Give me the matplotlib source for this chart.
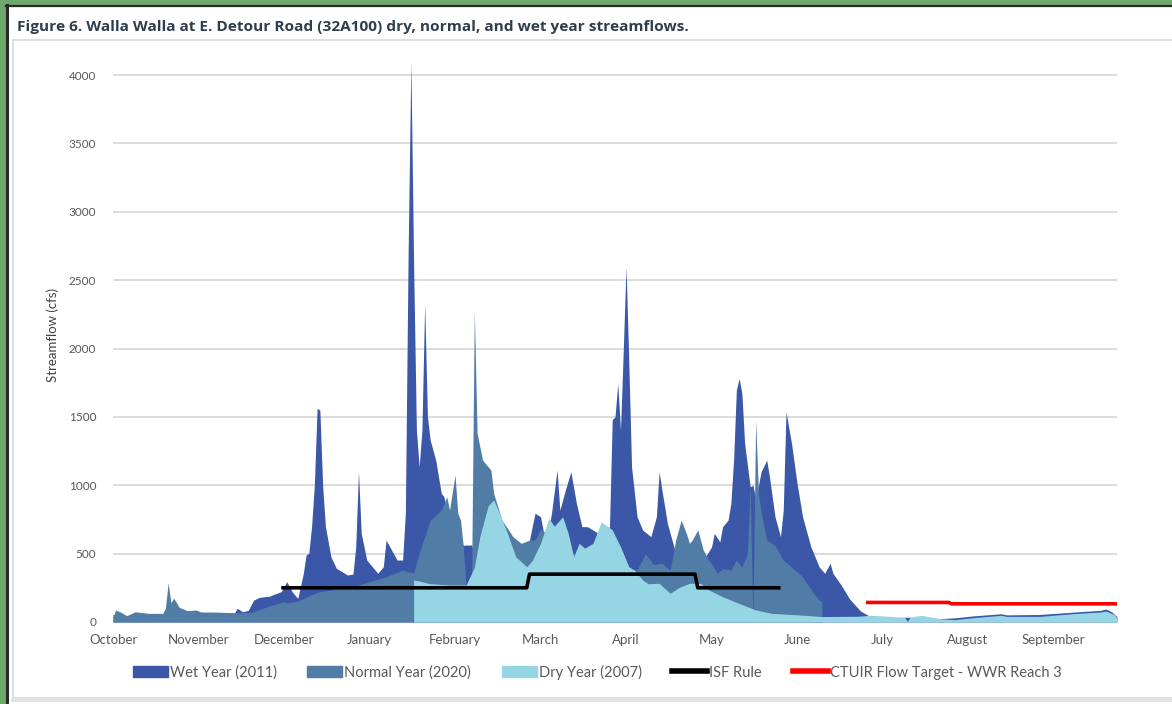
import matplotlib
matplotlib.use("Agg")
import matplotlib.pyplot as plt
from matplotlib.patches import Rectangle, Patch
from matplotlib.lines import Line2D

plt.rcParams['font.family'] = ['Lato', 'DejaVu Sans']

# ---------------- data (day index from Oct 1, cfs) ----------------
months = ["October", "November", "December", "January", "February", "March",
          "April", "May", "June", "July", "August", "September"]
month_tick_days = [0, 31, 62, 93, 124, 155, 186, 217, 248, 279, 310, 341]

wet_days = [0, 2, 5, 9, 14, 20, 27, 36, 44, 45, 47, 49, 51, 53, 57, 58, 61, 63, 65, 67,
            69, 70, 71, 72, 73, 74, 75, 76, 77, 79, 81, 85, 87, 88, 89, 90, 92, 96, 98, 99,
            101, 103, 105, 106, 107, 108, 109, 110, 111, 112, 113, 114, 115, 117, 119, 120,
            121, 123, 125, 127, 128, 130, 131, 135, 140, 145, 150, 152, 153, 155, 157, 159,
            161, 162, 164, 166, 168, 170, 172, 174, 175, 177, 180, 181, 182, 183, 184, 185,
            186, 187, 188, 190, 192, 195, 197, 198, 199, 201, 203, 204, 207, 210, 214, 217,
            218, 220, 221, 223, 224, 225, 226, 227, 228, 229, 231, 232, 233, 234, 235, 237,
            238, 240, 242, 243, 244, 246, 248, 250, 253, 256, 258, 260, 261, 264, 267, 271,
            275, 280, 288, 295, 300, 305, 312, 322, 324, 336, 348, 358, 360, 362, 364]
wet_cfs = [55, 50, 40, 55, 50, 60, 55, 60, 65, 100, 75, 85, 160, 180, 190, 200, 222, 295, 220, 173,
           356, 490, 502, 700, 1000, 1562, 1550, 1000, 700, 477, 392, 344, 350, 550, 1099, 648, 453, 356, 404, 599,
           526, 453, 453, 800, 2700, 4100, 2600, 1400, 1135, 1400, 2330, 1500, 1330, 1184, 941, 916,
           800, 700, 650, 560, 563, 563, 500, 450, 450, 450, 500, 700, 795, 770, 560, 800,
           1111, 818, 965, 1099, 868, 697, 697, 673, 660, 640, 697, 1480, 1500, 1745, 1404, 1988,
           2597, 1900, 1135, 770, 673, 624, 770, 1099, 965, 721, 575, 502, 450, 450, 450, 550,
           648, 587, 697, 745, 868, 1184, 1696, 1781, 1672, 1306, 989, 1000, 900, 1000, 1100, 1184,
           1062, 770, 624, 818, 1537, 1306, 1014, 770, 550, 404, 356, 429, 356, 270, 170, 80,
           35, 30, 35, 30, 25, 30, 45, 60, 52, 55, 72, 85, 95, 75, 40]

normal_days = [0, 1, 3, 5, 8, 13, 18, 19, 20, 21, 22, 24, 27, 30, 32, 36, 44, 50, 53, 57,
               62, 63, 66, 68, 72, 75, 79, 81, 87, 93, 99, 105, 109, 111, 115, 119, 121, 122, 124, 125,
               126, 127, 128, 130, 131, 132, 134, 137, 138, 141, 145, 148, 151, 153, 155, 157, 160, 165, 170, 175,
               180, 185, 190, 193, 196, 199, 202, 204, 206, 208, 209, 210, 212, 213, 214, 216, 217, 219, 221, 224,
               226, 228, 230, 231, 232, 233, 234, 235, 237, 240, 243, 245, 250, 254, 256, 257]
normal_cfs = [40, 88, 70, 46, 75, 63, 63, 100, 287, 140, 175, 107, 83, 88, 73, 73, 68, 70, 90, 120,
              148, 140, 148, 161, 200, 222, 234, 246, 258, 295, 331, 380, 356, 504, 745, 818, 916, 818, 1075, 795,
              745, 550, 260, 300, 2280, 1379, 1184, 1111, 941, 745, 624, 575, 599, 600, 680, 650, 550, 500, 500, 450,
              450, 400, 380, 500, 420, 430, 380, 600, 745, 640, 575, 600, 673, 600, 526, 450, 429, 356, 390, 380,
              453, 400, 500, 1000, 0, 1477, 941, 800, 599, 560, 453, 420, 331, 210, 161, 150]

dry_days = [109, 111, 115, 122, 128, 131, 133, 136, 138, 140, 143, 146, 150, 152, 155, 158, 160, 163, 165, 167,
            169, 171, 174, 177, 180, 181, 184, 187, 189, 192, 194, 198, 202, 205, 209, 213, 216, 221, 227, 233,
            239, 250, 257, 270, 275, 282, 287, 288, 289, 293, 300, 305, 312, 322, 324, 336, 348, 358, 360, 363, 364]
dry_cfs = [307, 300, 280, 270, 270, 400, 624, 850, 892, 800, 648, 477, 404, 450, 575, 758, 700, 770, 650, 477,
           575, 540, 575, 733, 690, 673, 550, 404, 380, 307, 280, 283, 210, 250, 283, 283, 234, 185, 136, 88,
           63, 50, 40, 42, 49, 41, 35, 5, 35, 49, 24, 17, 32, 49, 41, 41, 61, 73, 80, 55, 30]

isf_days = [61, 150, 151, 211, 212, 242]
isf_cfs = [250, 250, 350, 350, 250, 250]

ctuir_days = [273, 303, 304, 364]
ctuir_cfs = [143, 143, 133, 133]

y_ticks = [0, 500, 1000, 1500, 2000, 2500, 3000, 3500, 4000]

# ---------------- style ----------------
c_wet = "#3A57A8"
c_norm = "#507CA6"
c_dry = "#96D6E4"
txt_gray = "#595959"

W, H = 1172, 704
fig = plt.figure(figsize=(W / 100, H / 100), dpi=100)


def fx(px):
    return px / W


def fy(py):
    return 1 - py / H


# frame decorations
fig.patches.append(Rectangle((0, 0), fx(5), 1, transform=fig.transFigure, color="#6DA86D", zorder=0))
fig.patches.append(Rectangle((0, fy(4)), 1, 4 / H, transform=fig.transFigure, color="#6DA86D", zorder=0))
fig.add_artist(Line2D([fx(7), fx(7)], [0, fy(5)], transform=fig.transFigure, color="#2b2b2b", lw=2.2))
fig.add_artist(Line2D([fx(6), 1], [fy(5.5), fy(5.5)], transform=fig.transFigure, color="#2b2b2b", lw=1.6))
fig.patches.append(Rectangle((fx(13), fy(698)), fx(1172 - 13) + 0.01, (698 - 40) / H,
                             transform=fig.transFigure, fill=False, ec="#D9D9D9", lw=1.2, zorder=1))
fig.add_artist(Line2D([fx(13), 1], [fy(700), fy(700)], transform=fig.transFigure, color="#E3E3E3", lw=3))

fig.text(fx(17), fy(27), "Figure 6. Walla Walla at E. Detour Road (32A100) dry, normal, and wet year streamflows.",
         fontsize=11.1, fontweight="bold", color="#2F3D4C", va="center", ha="left",
         family=["Open Sans", "DejaVu Sans"])

ymax = 4200
left, right = 113, 1117
bottom_px, top_px = 622, 622 - 0.13675 * ymax
ax = fig.add_axes([fx(left), fy(bottom_px), fx(right - left), (bottom_px - top_px) / H])
ax.set_xlim(0, 364)
ax.set_ylim(0, ymax)

ax.fill_between(wet_days, 0, wet_cfs, color=c_wet, lw=0, zorder=2)
ax.fill_between(normal_days, 0, normal_cfs, color=c_norm, lw=0, zorder=3)
ax.fill_between(dry_days, 0, dry_cfs, color=c_dry, lw=0, zorder=4)
ax.plot(isf_days, isf_cfs, color="black", lw=2.6, zorder=5, solid_capstyle="butt")
ax.plot(ctuir_days, ctuir_cfs, color="#FF0000", lw=2.6, zorder=5, solid_capstyle="butt")

ax.set_yticks(y_ticks)
ax.set_yticklabels([str(v) for v in y_ticks], fontsize=8.5, color=txt_gray)
ax.set_xticks(month_tick_days)
ax.set_xticklabels(months, fontsize=9.5, color=txt_gray)
ax.tick_params(axis="both", length=0)
ax.tick_params(axis="y", pad=12)
ax.tick_params(axis="x", pad=9)
ax.grid(axis="y", color="#D9D9D9", lw=1.3, zorder=0)
ax.set_axisbelow(True)
for s in ax.spines.values():
    s.set_visible(False)
ax.set_ylabel("Streamflow (cfs)", fontsize=9.5, color="#404040", labelpad=7)

handles = [Patch(color=c_wet), Patch(color=c_norm), Patch(color=c_dry),
           Line2D([], [], color="black", lw=4), Line2D([], [], color="#FF0000", lw=4)]
labels = ["Wet Year (2011)", "Normal Year (2020)", "Dry Year (2007)", "ISF Rule",
          "CTUIR Flow Target - WWR Reach 3"]
fig.legend(handles, labels, loc="center", bbox_to_anchor=(fx(597), fy(672)), ncol=5, frameon=False,
           fontsize=10.5, labelcolor=txt_gray, handlelength=2.4, handleheight=0.7,
           handletextpad=0.14, columnspacing=2.1)

fig.savefig("out.png", dpi=100, facecolor="white")
